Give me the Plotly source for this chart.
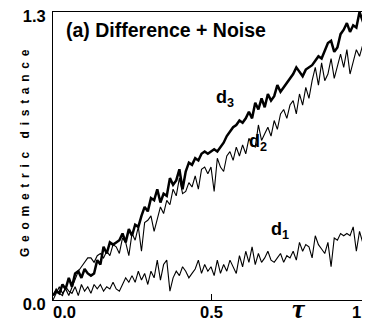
import plotly.graph_objects as go

tau = [i / 100 for i in range(101)]

d3 = [0.02, 0.04, 0.03, 0.07, 0.05, 0.10, 0.06, 0.12, 0.13, 0.10,
      0.14, 0.12, 0.11, 0.12, 0.18, 0.16, 0.24, 0.21, 0.26, 0.25,
      0.26, 0.27, 0.30, 0.26, 0.32, 0.29, 0.34, 0.33, 0.38, 0.42,
      0.40, 0.46, 0.45, 0.50, 0.44, 0.48, 0.47, 0.55, 0.52, 0.54,
      0.59, 0.50, 0.58, 0.62, 0.61, 0.64, 0.63, 0.66, 0.67, 0.66,
      0.67, 0.68, 0.67, 0.69, 0.71, 0.74, 0.76, 0.78, 0.79, 0.81,
      0.80, 0.82, 0.85, 0.82, 0.89, 0.86, 0.91, 0.87, 0.93, 0.90,
      0.92, 0.97, 0.94, 0.96, 0.98, 1.00, 1.02, 1.05, 1.03, 1.01,
      1.04, 1.05, 1.06, 1.08, 1.10, 1.09, 1.13, 1.16, 1.17, 1.12,
      1.14, 1.20, 1.22, 1.25, 1.21, 1.24, 1.23, 1.30, 1.26, 1.27,
      1.25]

d2 = [0.00, 0.03, 0.06, 0.03, 0.05, 0.02, 0.06, 0.09, 0.13, 0.15,
      0.17, 0.19, 0.19, 0.17, 0.20, 0.21, 0.19, 0.22, 0.20, 0.25,
      0.24, 0.21, 0.28, 0.26, 0.20, 0.30, 0.27, 0.33, 0.22, 0.35,
      0.36, 0.38, 0.31, 0.36, 0.42, 0.39, 0.45, 0.43, 0.50, 0.47,
      0.55, 0.48, 0.49, 0.53, 0.51, 0.56, 0.50, 0.59, 0.60, 0.57,
      0.60, 0.49, 0.64, 0.60, 0.58, 0.65, 0.67, 0.63, 0.69, 0.65,
      0.70, 0.66, 0.73, 0.70, 0.69, 0.79, 0.72, 0.75, 0.78, 0.74,
      0.81, 0.77, 0.84, 0.86, 0.82, 0.88, 0.90, 0.84, 0.93, 0.88,
      0.96, 0.91, 0.99, 1.05, 0.97, 1.07, 0.99, 1.02, 1.09, 1.00,
      1.06, 1.11, 1.05, 1.13, 1.02, 1.08, 1.13, 1.10, 1.15, 1.23,
      1.17]

d1 = [0.02, 0.05, 0.03, 0.02, 0.06, 0.04, 0.03, 0.06, 0.02, 0.07,
      0.04, 0.06, 0.03, 0.07, 0.05, 0.07, 0.04, 0.06, 0.05, 0.08,
      0.05, 0.04, 0.07, 0.10, 0.08, 0.11, 0.08, 0.13, 0.09, 0.12,
      0.07, 0.13, 0.10, 0.18, 0.09, 0.16, 0.18, 0.04, 0.10, 0.13,
      0.11, 0.15, 0.13, 0.10, 0.12, 0.14, 0.18, 0.12, 0.16, 0.13,
      0.15, 0.11, 0.18, 0.12, 0.16, 0.13, 0.18, 0.15, 0.12, 0.20,
      0.15, 0.22, 0.17, 0.24, 0.16, 0.21, 0.17, 0.19, 0.22, 0.18,
      0.17, 0.19, 0.21, 0.17, 0.20, 0.19, 0.22, 0.18, 0.26, 0.22,
      0.25, 0.24, 0.19, 0.29, 0.25, 0.23, 0.21, 0.26, 0.15, 0.28,
      0.27, 0.30, 0.29, 0.30, 0.29, 0.33, 0.22, 0.31, 0.26, 0.29,
      0.27]

x_ticks = [0.0, 0.5, 1.0]
x_tick_labels = ["0.0", "0.5", "1.0"]
y_ticks = [0.0, 1.3]
y_tick_labels = ["0.0", "1.3"]

FONT = "Liberation Sans, Arial, sans-serif"
BLACK = "#000000"

fig = go.Figure()
fig.add_trace(go.Scatter(x=tau, y=d1, mode="lines", line=dict(color=BLACK, width=1.1)))
fig.add_trace(go.Scatter(x=tau, y=d2, mode="lines", line=dict(color=BLACK, width=1.1)))
fig.add_trace(go.Scatter(x=tau, y=d3, mode="lines", line=dict(color=BLACK, width=2.5)))

fig.update_layout(
    width=370, height=324,
    margin=dict(l=45, r=9, t=4, b=32),
    paper_bgcolor="white", plot_bgcolor="white",
    showlegend=False,
    font=dict(family=FONT, color=BLACK),
)
fig.update_xaxes(
    range=[0, 1], tickvals=x_ticks, showticklabels=False, automargin=False,
    ticks="inside", ticklen=6, tickcolor=BLACK,
    showline=True, linecolor=BLACK, linewidth=1, mirror=True,
    showgrid=False, zeroline=False,
)
fig.update_yaxes(
    range=[0, 1.3], tickvals=y_ticks, ticktext=["<b>%s</b>" % t for t in y_tick_labels],
    automargin=False, ticklabelshift=4,
    ticks="", tickfont=dict(size=16.5, color=BLACK), ticklabelstandoff=3,
    ticklabeloverflow="allow",
    showline=True, linecolor=BLACK, linewidth=1, mirror=True,
    showgrid=False, zeroline=False,
)

# x tick labels, placed at the axis tick values
anchors = ["left", "center", "right"]
shifts = [-2, 0, 8]
for v, t, a, s in zip(x_ticks, x_tick_labels, anchors, shifts):
    fig.add_annotation(xref="x", yref="paper", x=v, y=-0.042, showarrow=False,
                       text="<b>%s</b>" % t, font=dict(size=16.5, color=BLACK),
                       xanchor=a, yanchor="middle", xshift=s)

anns = [
    dict(x=0.035, y=1.22, text="<b>(a) Difference + Noise</b>", font=dict(size=19.5, color=BLACK),
         xanchor="left", yanchor="middle"),
    dict(x=0.51, y=0.91, text="<b>d<sub>3</sub></b>", font=dict(size=18, color=BLACK),
         xanchor="left", yanchor="middle"),
    dict(x=0.615, y=0.71, text="<b>d<sub>2</sub></b>", font=dict(size=18, color=BLACK),
         xanchor="left", yanchor="middle"),
    dict(x=0.685, y=0.315, text="<b>d<sub>1</sub></b>", font=dict(size=18, color=BLACK),
         xanchor="left", yanchor="middle"),
]
for a in anns:
    fig.add_annotation(xref="x", yref="y", showarrow=False, **a)

sep = "&nbsp;\u2009"
ylabel = sep.join("Geometric") + "&nbsp;&nbsp;&nbsp;&nbsp;" + sep.join("distance")
fig.add_annotation(xref="paper", yref="paper", x=-0.089, y=0.51, showarrow=False,
                   text="<b>%s</b>" % ylabel,
                   textangle=-90, font=dict(size=12, color=BLACK), xanchor="center", yanchor="middle")
fig.add_annotation(xref="paper", yref="paper", x=0.777, y=-0.03, showarrow=False,
                   text="<b><i>τ</i></b>", font=dict(size=28, family="Liberation Serif", color=BLACK),
                   xanchor="center", yanchor="middle")

fig.write_html("out.html")
